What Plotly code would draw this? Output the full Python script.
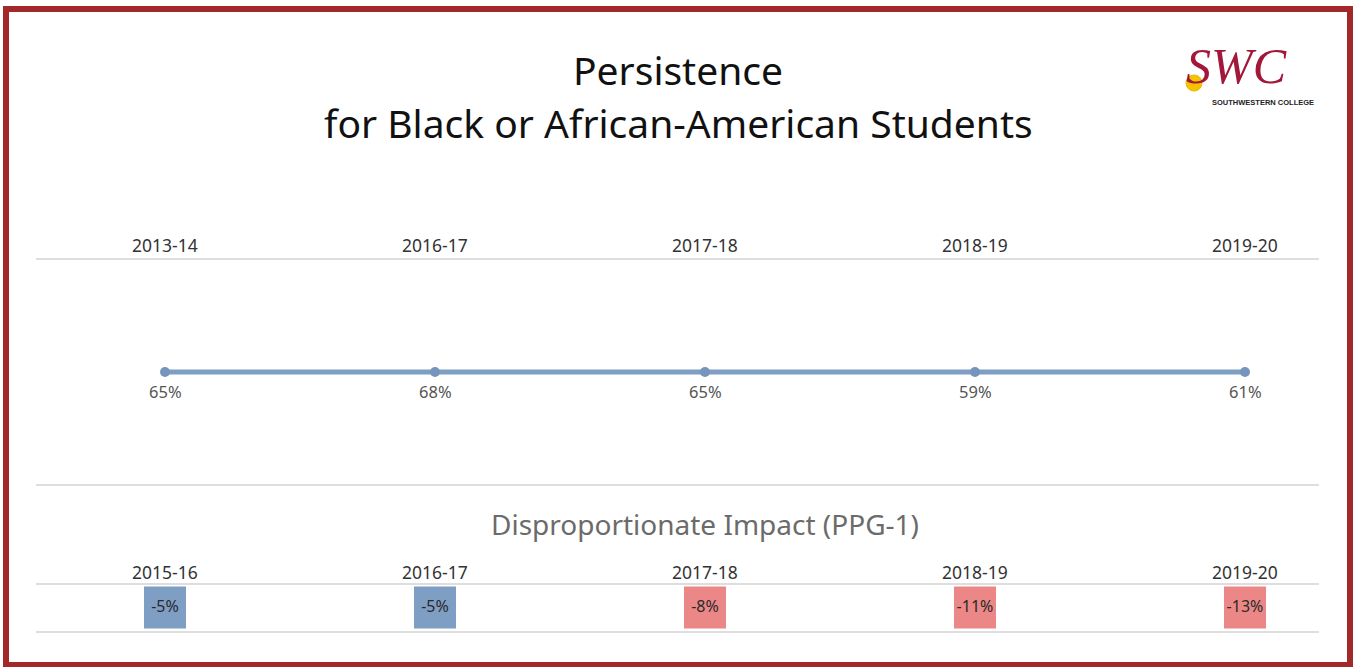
import plotly.graph_objects as go

# ---- data ----
persist_years = ["2013-14", "2016-17", "2017-18", "2018-19", "2019-20"]
persist_rates = [65, 68, 65, 59, 61]

di_years = ["2015-16", "2016-17", "2017-18", "2018-19", "2019-20"]
di_gaps = [-5, -5, -8, -11, -13]

title_lines = ["Persistence", "for Black or African-American Students"]
subtitle = "Disproportionate Impact (PPG-1)"

W, H = 1353, 667
BLUE = "#7f9ec4"
RED = "#ec8787"
FONT = "Noto Sans"

def py(p):
    """pixel-from-top to paper fraction"""
    return 1 - p / H

def px(p):
    return p / W

fig = go.Figure()

# persistence line (single flat row, values shown as labels)
fig.add_trace(go.Scatter(
    x=persist_years, y=[0] * len(persist_years),
    mode="lines+markers",
    line=dict(color=BLUE, width=5),
    marker=dict(color="#7595bd", size=10),
    xaxis="x", yaxis="y", hoverinfo="skip", showlegend=False,
))

# disproportionate impact boxes
di_colors = [BLUE if v >= -5 else RED for v in di_gaps]
fig.add_trace(go.Scatter(
    x=di_years, y=[0] * len(di_years),
    mode="markers+text",
    marker=dict(symbol="square", size=42, color=di_colors, line=dict(width=0)),
    text=[f"{v}%" for v in di_gaps],
    textposition="middle center",
    textfont=dict(family=FONT, size=16, color="#2a2a2a"),
    xaxis="x2", yaxis="y2", hoverinfo="skip", showlegend=False,
))

# x range so categories sit at 165 + 270*i px
r0 = -165 / 270
r1 = r0 + W / 270
top_c = py(372)
bot_c = py(607.5)

annotations = []
for yr, v in zip(persist_years, persist_rates):
    annotations.append(dict(x=yr, xref="x", y=0, yref="y", text=f"{v}%", showarrow=False,
                            yshift=-19, font=dict(family=FONT, size=16.5, color="#555555"),
                            xanchor="center", yanchor="middle"))
for yr in persist_years:
    annotations.append(dict(x=yr, xref="x", y=py(245), yref="paper", text=yr,
                            showarrow=False, font=dict(family=FONT, size=17.5, color="#333333"),
                            xanchor="center", yanchor="middle"))
for yr in di_years:
    annotations.append(dict(x=yr, xref="x2", y=py(572), yref="paper", text=yr,
                            showarrow=False, font=dict(family=FONT, size=17.5, color="#333333"),
                            xanchor="center", yanchor="middle"))

annotations += [
    dict(x=px(678), y=py(70), xref="paper", yref="paper", text=title_lines[0], showarrow=False,
         font=dict(family=FONT, size=39, color="#111111"), xanchor="center", yanchor="middle"),
    dict(x=px(678), y=py(122), xref="paper", yref="paper", text=title_lines[1], showarrow=False,
         font=dict(family=FONT, size=39, color="#111111"), xanchor="center", yanchor="middle"),
    dict(x=px(705), y=py(524), xref="paper", yref="paper", text=subtitle, showarrow=False,
         font=dict(family=FONT, size=28, color="#6b6b6b"), xanchor="center", yanchor="middle"),
    # logo
    dict(x=px(1236), y=py(66), xref="paper", yref="paper", text="<i>SWC</i>", showarrow=False,
         font=dict(family="Liberation Serif", size=50, color="#a3183a"), xanchor="center", yanchor="middle"),
    dict(x=px(1263), y=py(102), xref="paper", yref="paper", text="<b>SOUTHWESTERN COLLEGE</b>", showarrow=False,
         font=dict(family="Liberation Sans", size=7.5, color="#222222"), xanchor="center", yanchor="middle"),
]

line_col = "#d3d3d3"
shapes = []
for p in (259, 485, 584, 632):
    shapes.append(dict(type="line", xref="paper", yref="paper", x0=px(36), x1=px(1319),
                       y0=py(p), y1=py(p), line=dict(color=line_col, width=1.5)))
# logo sun
shapes.append(dict(type="circle", xref="paper", yref="paper", x0=px(1186), x1=px(1202),
                   y0=py(91), y1=py(75), fillcolor="#f5c400", line=dict(color="#f0b400", width=1)))
# frame
shapes.append(dict(type="rect", xref="paper", yref="paper", x0=px(6), x1=px(1350),
                   y0=py(665), y1=py(9), line=dict(color="#a3282a", width=6)))

fig.update_layout(
    width=W, height=H,
    margin=dict(l=0, r=0, t=0, b=0),
    paper_bgcolor="white", plot_bgcolor="white",
    xaxis=dict(type="category", categoryorder="array", categoryarray=persist_years,
               range=[r0, r1], domain=[0, 1], visible=False, fixedrange=True),
    xaxis2=dict(type="category", categoryorder="array", categoryarray=di_years,
                range=[r0, r1], domain=[0, 1], visible=False, anchor="y2", overlaying="x", fixedrange=True),
    yaxis=dict(range=[-top_c, 1 - top_c], domain=[0, 1], visible=False, fixedrange=True),
    yaxis2=dict(range=[-bot_c, 1 - bot_c], domain=[0, 1], visible=False, anchor="x2",
                overlaying="y", fixedrange=True),
    annotations=annotations,
    shapes=shapes,
)

fig.write_html("out.html", config={"displayModeBar": False},
               post_script="document.body.style.margin='0';")
